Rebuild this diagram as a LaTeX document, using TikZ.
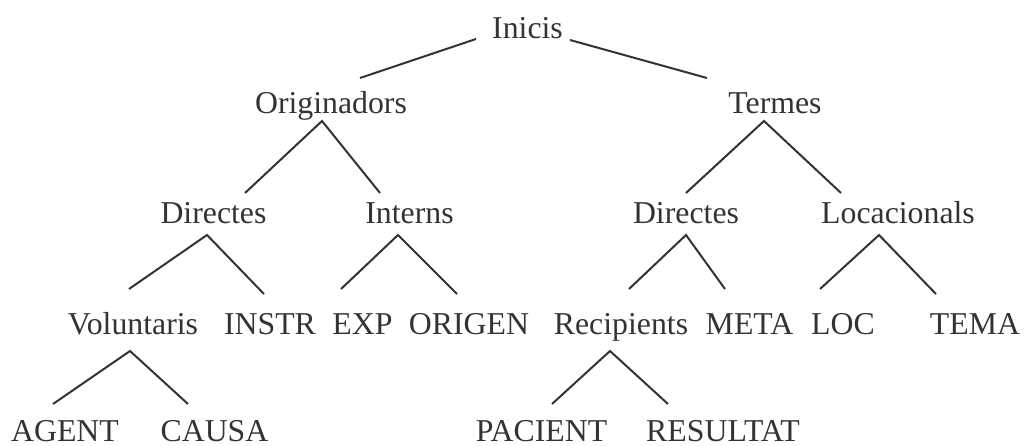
\documentclass[tikz,border=0pt]{standalone}
\usepackage{fontspec}
\setmainfont{Liberation Serif}
\definecolor{ink}{gray}{0.2}
\begin{document}
\begin{tikzpicture}[x=0.5pt,y=-0.5pt,
  lbl/.style={anchor=base,inner sep=0pt,text=ink,font=\fontsize{15.9}{19}\selectfont},
  edge/.style={draw=ink,line width=1pt}]
\useasboundingbox (0,0) rectangle (1024,445);
% labels, placed on their baselines
\node[lbl] (ini)   at (527.5,38) {Inicis};
\node[lbl] (orig)  at (331,113) {Originadors};
\node[lbl] (term)  at (775,113) {Termes};
\node[lbl] (dir1)  at (213.5,223) {Directes};
\node[lbl] (intr)  at (409.5,223) {Interns};
\node[lbl] (dir2)  at (686,223) {Directes};
\node[lbl] (loca)  at (898,223) {Locacionals};
\node[lbl] (volu)  at (133,334) {Voluntaris};
\node[lbl] (instr) at (270,334) {INSTR};
\node[lbl] (exp)   at (362.5,334) {EXP};
\node[lbl] (orign) at (469,334) {ORIGEN};
\node[lbl] (reci)  at (621,334) {Recipients};
\node[lbl] (meta)  at (749.5,334) {META};
\node[lbl] (loc)   at (843,334) {LOC};
\node[lbl] (tema)  at (975,334) {TEMA};
\node[lbl] (agent) at (65,441.5) {AGENT};
\node[lbl] (causa) at (214.5,441.5) {CAUSA};
\node[lbl] (pac)   at (541.5,441.5) {PACIENT};
\node[lbl] (res)   at (723,441.5) {RESULTAT};
% branches
\draw[edge] ([shift={(-51.5,1)}]ini.base) -- ([shift={(29,-35)}]orig.base);
\draw[edge] ([shift={(42.5,2)}]ini.base) -- ([shift={(-68,-35)}]term.base);
\draw[edge] ([shift={(31.5,-30)}]dir1.base) -- ([shift={(-9,8)}]orig.base) -- ([shift={(-29.5,-30)}]intr.base);
\draw[edge] ([shift={(0,-30)}]dir2.base) -- ([shift={(-11,8)}]term.base) -- ([shift={(-57,-30)}]loca.base);
\draw[edge] ([shift={(-4,-45)}]volu.base) -- ([shift={(-6.5,12)}]dir1.base) -- ([shift={(-6,-40)}]instr.base);
\draw[edge] ([shift={(-21.5,-45)}]exp.base) -- ([shift={(-11.5,12)}]intr.base) -- ([shift={(-12,-40)}]orign.base);
\draw[edge] ([shift={(8,-45)}]reci.base) -- ([shift={(0,12)}]dir2.base) -- ([shift={(-24.5,-45)}]meta.base);
\draw[edge] ([shift={(-23,-45)}]loc.base) -- ([shift={(-19,12)}]loca.base) -- ([shift={(-39,-40)}]tema.base);
\draw[edge] ([shift={(-12,-37.5)}]agent.base) -- ([shift={(-3,17)}]volu.base) -- ([shift={(-26.5,-37.5)}]causa.base);
\draw[edge] ([shift={(10.5,-37.5)}]pac.base) -- ([shift={(-11,17)}]reci.base) -- ([shift={(-55,-37.5)}]res.base);
\end{tikzpicture}
\end{document}
